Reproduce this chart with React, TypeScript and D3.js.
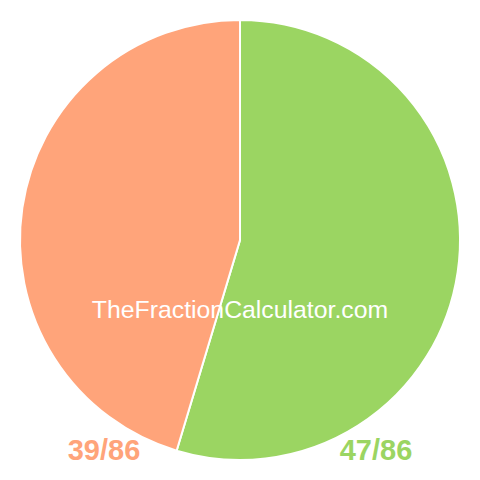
import React, { useEffect, useRef } from 'react';
import * as d3 from 'd3';

const labels = ['47/86', '39/86'];
const values = [47, 39];
const colors = ['#9bd562', '#ffa47a'];

const App: React.FC = () => {
  const chartRef = useRef<SVGSVGElement>(null);

  useEffect(() => {
    if (!chartRef.current) return;
    document.body.style.margin = '0';

    const svg = d3.select(chartRef.current);
    svg.selectAll('*').remove();

    const width = 480;
    const height = 480;
    const radius = 220;

    const g = svg.append('g').attr('transform', `translate(${width / 2},${height / 2})`);

    const pie = d3.pie<number>().sort(null).value(d => d);
    const arc = d3.arc<d3.PieArcDatum<number>>().innerRadius(0).outerRadius(radius);

    g.selectAll('path')
      .data(pie(values))
      .enter()
      .append('path')
      .attr('d', arc)
      .attr('fill', (_, i) => colors[i])
      .attr('stroke', '#fff')
      .attr('stroke-width', 2);

    // watermark
    svg.append('text')
      .attr('x', width / 2)
      .attr('y', 318)
      .attr('text-anchor', 'middle')
      .attr('fill', '#fff')
      .style('font-family', 'Liberation Sans, Arial, sans-serif')
      .style('font-size', '24.8px')
      .text('TheFractionCalculator.com');

    // fraction labels under the pie
    const labelX = [376, 104];
    svg.selectAll('.frac')
      .data(labels)
      .enter()
      .append('text')
      .attr('class', 'frac')
      .attr('x', (_, i) => labelX[i])
      .attr('y', 460)
      .attr('text-anchor', 'middle')
      .attr('fill', (_, i) => colors[i])
      .style('font-family', 'Liberation Sans, Arial, sans-serif')
      .style('font-weight', 'bold')
      .style('font-size', '29px')
      .text(d => d);
  }, []);

  return <svg ref={chartRef} width={480} height={480} style={{ display: 'block' }} />;
};

export default App;
